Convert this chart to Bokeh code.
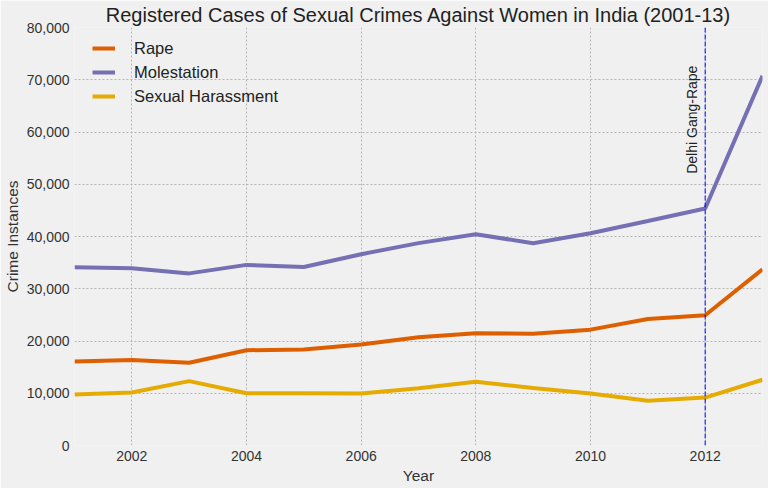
from bokeh.plotting import figure
from bokeh.models import Range1d, Span, Label, Legend, LegendItem, NumeralTickFormatter, FixedTicker
from bokeh.embed import file_html
from bokeh.resources import INLINE

years = [2001, 2002, 2003, 2004, 2005, 2006, 2007, 2008, 2009, 2010, 2011, 2012, 2013]
rape = [16075, 16373, 15847, 18233, 18359, 19348, 20737, 21467, 21397, 22172, 24206, 24923, 33707]
molestation = [34124, 33943, 32939, 34567, 34175, 36617, 38734, 40413, 38711, 40613, 42968, 45351, 70739]
harassment = [9746, 10155, 12325, 10001, 9984, 9966, 10950, 12214, 11009, 9961, 8570, 9173, 12589]
series_names = ["Rape", "Molestation", "Sexual Harassment"]
colors = ["#de5f00", "#7570b3", "#e6ab02"]
event_year = 2012
event_label = "Delhi Gang-Rape"
event_label_y = 52000
x_ticks = [2002, 2004, 2006, 2008, 2010, 2012]
y_ticks = [0, 10000, 20000, 30000, 40000, 50000, 60000, 70000, 80000]

FONT = "Liberation Sans"
BG = "#f0f0f0"

p = figure(width=768, height=488, output_backend="svg", toolbar_location=None,
           x_range=Range1d(2001, 2013), y_range=Range1d(0, 80000),
           background_fill_color=BG, border_fill_color=BG,
           min_border_left=73, min_border_right=6, min_border_top=27, min_border_bottom=43)
p.outline_line_color = None

p.title.text = "Registered Cases of Sexual Crimes Against Women in India (2001-13)"
p.title.text_font = FONT
p.title.text_font_size = "20px"
p.title.text_font_style = "normal"
p.title.text_color = "#222222"
p.title.align = "center"
p.title.standoff = 3

for ax in (p.xaxis[0], p.yaxis[0]):
    ax.axis_line_color = None
    ax.major_tick_line_color = None
    ax.minor_tick_line_color = None
    ax.major_tick_out = 0
    ax.major_tick_in = 0
    ax.minor_tick_out = 0
    ax.major_label_text_font = FONT
    ax.major_label_text_font_size = "14px"
    ax.major_label_text_color = "#333333"
    ax.axis_label_text_font = FONT
    ax.axis_label_text_font_size = "15.5px"
    ax.axis_label_text_font_style = "normal"
    ax.axis_label_text_color = "#333333"

p.xaxis.axis_label = "Year"
p.yaxis.axis_label = "Crime Instances"
p.xaxis.ticker = FixedTicker(ticks=x_ticks)
p.yaxis.ticker = FixedTicker(ticks=y_ticks)
p.yaxis.formatter = NumeralTickFormatter(format="0,0")
p.xaxis.major_label_standoff = 5
p.xaxis.axis_label_standoff = 3
p.yaxis.major_label_standoff = 5
p.yaxis.axis_label_standoff = 3

p.grid.grid_line_color = "#b4b4b4"
p.grid.grid_line_dash = "2 2"
p.grid.grid_line_width = 1

items = []
for name, vals, c in zip(series_names, [rape, molestation, harassment], colors):
    r = p.line(years, vals, line_color=c, line_width=4)
    items.append(LegendItem(label=name, renderers=[r]))

span = Span(location=event_year, dimension="height", line_color="blue",
            line_dash="5 2", line_width=1)
p.add_layout(span)

lab = Label(x=event_year, y=event_label_y, text=event_label, angle=90, angle_units="deg",
            text_font=FONT, text_font_size="14px", text_color="#222222",
            text_align="left", text_baseline="alphabetic", x_offset=-13.5)
p.add_layout(lab)

legend = Legend(items=items, location=(18, 339), margin=0, padding=0,
                border_line_color=None, background_fill_alpha=0,
                label_text_font=FONT, label_text_font_size="16.5px", label_text_color="#222222",
                glyph_width=23, glyph_height=20, label_height=20, label_standoff=19, spacing=4)
p.add_layout(legend)

open("out.html", "w").write(file_html(p, INLINE))
